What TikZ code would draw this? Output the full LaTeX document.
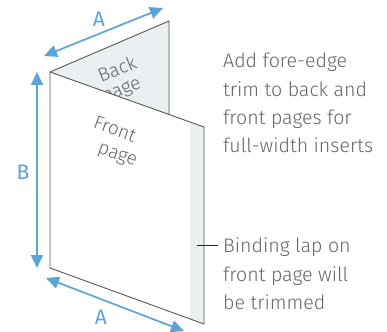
\documentclass[tikz,border=0pt]{standalone}
\usepackage{fontspec}
\setmainfont{Fira Sans Light}
\newfontfamily\dimfont{Fira Sans}
\usetikzlibrary{arrows.meta}
\definecolor{dimblue}{HTML}{5BA5D6}
\definecolor{paneltint}{HTML}{EAEFF2}
\definecolor{inkgray}{HTML}{666666}
\definecolor{edgegray}{HTML}{555555}
\tikzset{
  page/.style={draw=edgegray,line width=0.9pt,line join=miter},
  dimline/.style={draw=dimblue,line width=1.7pt,{Triangle[length=13pt,width=12pt]}-{Triangle[length=13pt,width=12pt]}},
  dimlabel/.style={text=dimblue,font=\dimfont\fontsize{21}{21}\selectfont,inner sep=0pt},
  note/.style={text=inkgray,font=\fontsize{19.6}{28.3}\selectfont,align=left,anchor=north west,inner sep=0pt},
  pagelabel/.style={text=inkgray,font=\fontsize{19}{19}\selectfont,inner sep=0pt},
  leader/.style={draw=black!85,line width=0.7pt}
}
\begin{document}
\begin{tikzpicture}[x=1pt,y=-1pt]
\useasboundingbox (0,0) rectangle (387,331);
\coordinate (foldT) at (50,72);
\coordinate (backT) at (169,21);
\coordinate (backB) at (169,115);
\coordinate (frontT) at (204,127);
\coordinate (frontB) at (204,324);
\coordinate (foldB) at (50,268);
% back page
\fill[paneltint] (foldT) -- (backT) -- (backB) -- cycle;
\node[pagelabel,rotate=22] (backlabel) at (117,69) {Back};
\node[pagelabel,rotate=22] (backlabelb) at (122,92) {page};
% front page covers lower part of the back label
\fill[white] (foldT) -- (frontT) -- (frontB) -- (foldB) -- cycle;
\fill[paneltint] (190,122) -- (frontT) -- (frontB) -- (190,319) -- cycle;
\draw[page] (foldT) -- (backT) -- (backB);
\draw[page] (foldT) -- (frontT) -- (frontB) -- (foldB) -- cycle;
\node[pagelabel,rotate=-20] (frontlabel) at (115,129) {Front};
\node[pagelabel,rotate=-20] (frontlabelb) at (117,156) {page};
% dimensions
\coordinate (a1s) at (44,56);
\coordinate (a1e) at (163,8);
\coordinate (bs) at (37,72);
\coordinate (be) at (37,268);
\coordinate (a2s) at (46,278);
\coordinate (a2e) at (184,331);
\draw[dimline] (a1s) -- (a1e);
\draw[dimline] (bs) -- (be);
\draw[dimline] (a2s) -- (a2e);
\node[dimlabel] (la1) at (99,19) {A};
\node[dimlabel] (lb) at (23,172) {B};
\node[dimlabel] (la2) at (101,317) {A};
% notes
\node[note] (n1) at (223,53) {Add fore-edge\\trim to back and\\front pages for\\full-width inserts};
\node[note] (n2) at (223,238) {Binding lap on\\front page will\\be trimmed};
\coordinate (leadS) at (197,245);
\coordinate (leadE) at (218,245);
\draw[leader] (leadS) -- (leadE);
\end{tikzpicture}
\end{document}
